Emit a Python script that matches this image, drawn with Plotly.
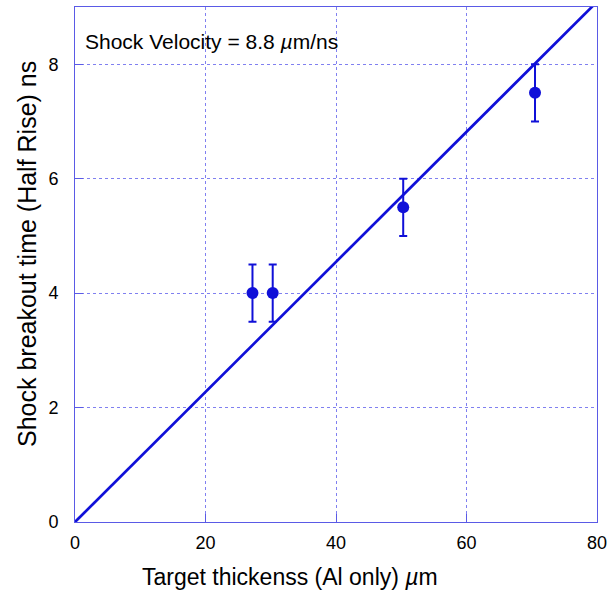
import numpy as np
import plotly.graph_objects as go

thickness = [27.2, 30.3, 50.3, 70.5]
breakout = [4.0, 4.0, 5.5, 7.5]
err = [0.5, 0.5, 0.5, 0.5]
velocity = 8.8
fit_x = [0, 80]
fit_y = [x / velocity for x in fit_x]

blue = "#1010d8"
frame = "#5a5ae6"
grid = "#8080f0"
font = "Liberation Sans"

W, H = 609, 593
L, R, T, B = 75, 12, 7, 71
PW, PH = W - L - R, H - T - B


def px(x):
    return (x - L) / PW


def py(y):
    return (H - B - y) / PH


fig = go.Figure()
fig.add_trace(go.Scatter(x=fit_x, y=fit_y, mode="lines",
                         line=dict(color=blue, width=2.7), showlegend=False))
fig.add_trace(go.Scatter(x=thickness, y=breakout, mode="markers",
                         marker=dict(color=blue, size=12),
                         error_y=dict(type="data", array=err, color=blue,
                                      thickness=2, width=4),
                         showlegend=False))

axis_common = dict(showline=True, linecolor=frame, linewidth=1, mirror=True,
                   showgrid=True, gridcolor=grid, griddash="dot", gridwidth=1,
                   ticks="inside", ticklen=8, tickcolor=frame, zeroline=False,
                   automargin=False,
                   tickfont=dict(size=18, color="black", family=font))

fig.update_xaxes(range=[0, 80], dtick=20, ticklabelstandoff=4, **axis_common)
fig.update_yaxes(range=[0, 9], tickvals=[0, 2, 4, 6, 8], ticklabelstandoff=12, **axis_common)

fig.add_annotation(x=px(83), y=py(42), xref="paper", yref="paper",
                   text="Shock Velocity = 8.8 <i>µ</i>m/ns", showarrow=False,
                   xanchor="left", yanchor="middle",
                   font=dict(size=21, color="black", family=font))
fig.add_annotation(x=px(290), y=py(577), xref="paper", yref="paper",
                   text="Target thickenss (Al only) <i>µ</i>m", showarrow=False,
                   xanchor="center", yanchor="middle",
                   font=dict(size=23, color="black", family=font))
fig.add_annotation(x=px(27), y=py(254), xref="paper", yref="paper",
                   text="Shock breakout time (Half Rise) ns", showarrow=False,
                   textangle=-90, xanchor="center", yanchor="middle",
                   font=dict(size=25, color="black", family=font))

fig.update_layout(width=W, height=H, margin=dict(l=L, r=R, t=T, b=B, autoexpand=False),
                  plot_bgcolor="white", paper_bgcolor="white")
fig.write_html("out.html")
